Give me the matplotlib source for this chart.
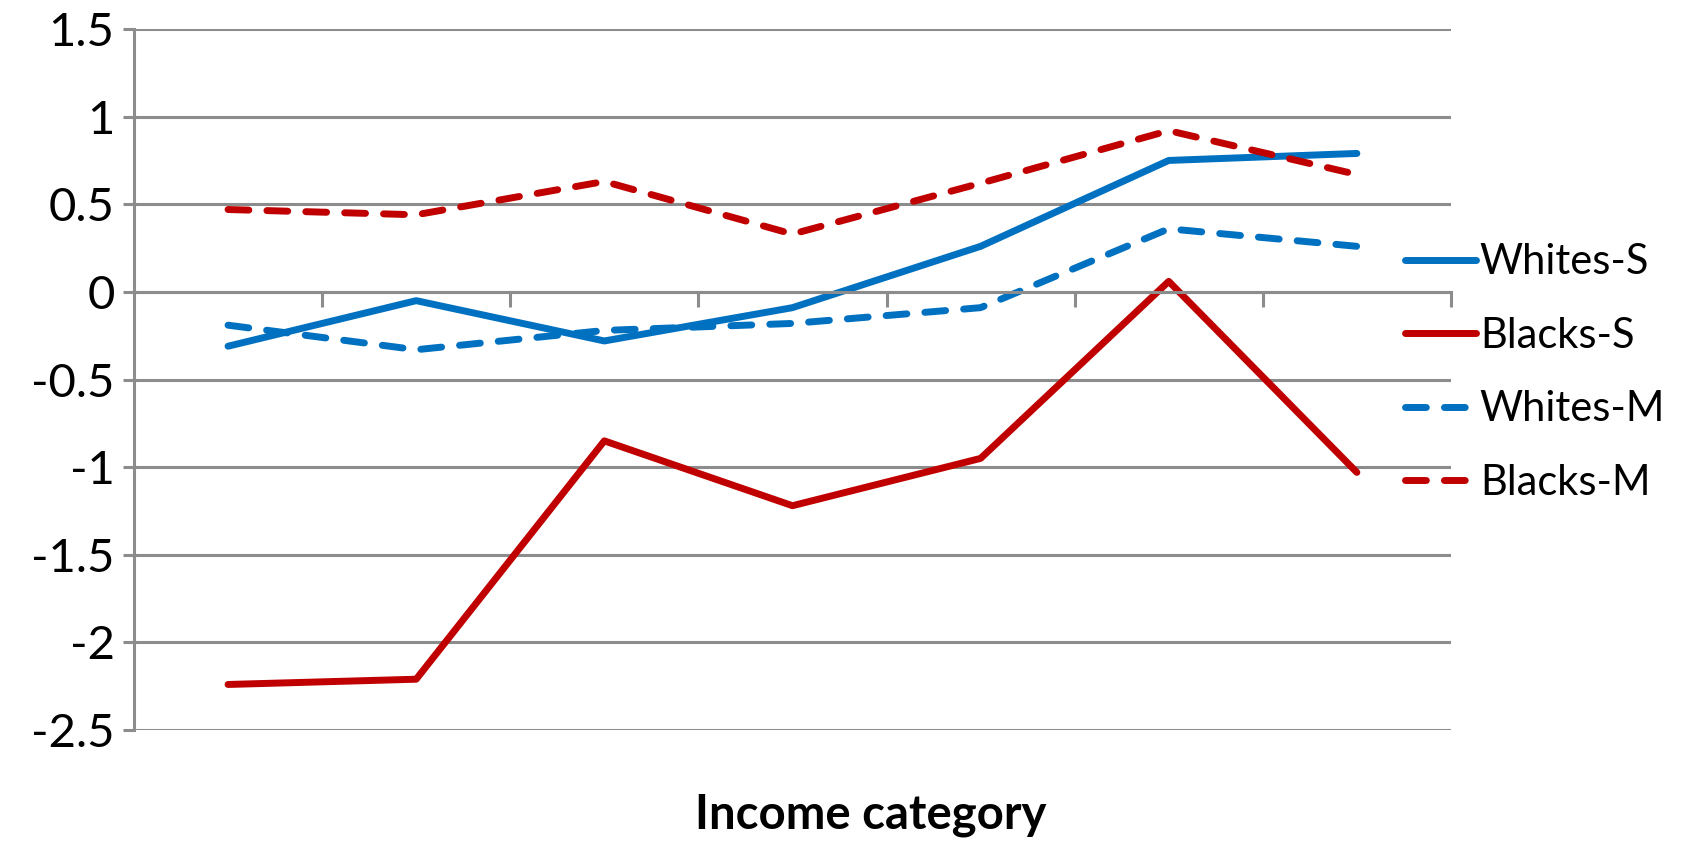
import numpy as np
import matplotlib
matplotlib.use('Agg')
import matplotlib.pyplot as plt

plt.rcParams['font.family'] = ['Lato', 'DejaVu Sans']

# income categories (no labels shown on the chart)
categories = [1, 2, 3, 4, 5, 6, 7]

whites_s = [-0.31, -0.05, -0.28, -0.09, 0.26, 0.75, 0.79]
blacks_s = [-2.24, -2.21, -0.85, -1.22, -0.95, 0.06, -1.03]
whites_m = [-0.19, -0.33, -0.22, -0.18, -0.09, 0.36, 0.26]
blacks_m = [0.47, 0.44, 0.63, 0.33, 0.62, 0.92, 0.67]

blue = '#0070C0'
red = '#C00000'
grid_col = '#8C8C8C'

fig = plt.figure(figsize=(16.98, 8.43), dpi=100)
ax = fig.add_axes([0.0789, 0.134, 0.7756, 0.8316])

lw = 5.0
ax.plot(categories, whites_s, color=blue, lw=lw, label='Whites-S', solid_capstyle='round')
ax.plot(categories, blacks_s, color=red, lw=lw, label='Blacks-S', solid_capstyle='round')
ax.plot(categories, whites_m, color=blue, lw=lw, label='Whites-M', dashes=(3.0, 2.6), dash_capstyle='round')
ax.plot(categories, blacks_m, color=red, lw=lw, label='Blacks-M', dashes=(3.0, 2.6), dash_capstyle='round')

ax.set_xlim(0.5, 7.5)
ax.set_ylim(-2.5, 1.5)
ax.set_yticks(np.arange(-2.5, 1.51, 0.5))
ax.set_yticklabels(['-2.5', '-2', '-1.5', '-1', '-0.5', '0', '0.5', '1', '1.5'])
ax.set_xticks(np.arange(1.5, 7.6, 1.0))
ax.set_xticklabels([])

ax.grid(axis='y', color=grid_col, lw=2.2)
ax.set_axisbelow(True)

for s in ['top', 'right']:
    ax.spines[s].set_visible(False)
ax.spines['left'].set_color(grid_col)
ax.spines['left'].set_linewidth(2.2)
ax.spines['bottom'].set_position(('data', 0))
ax.spines['bottom'].set_color(grid_col)
ax.spines['bottom'].set_linewidth(2.2)

ax.tick_params(axis='y', direction='out', length=8, width=2.2, color=grid_col,
               labelsize=34, pad=6)
ax.tick_params(axis='x', direction='out', length=11, width=2.2, color=grid_col)

fig.text(0.513, 0.033, 'Income category', ha='center', va='center',
         fontsize=34, fontweight='bold')

leg = ax.legend(loc='center left', bbox_to_anchor=(0.965, 0.51), frameon=False,
                fontsize=30, handlelength=1.7, handletextpad=0.1,
                labelspacing=0.85, borderaxespad=0, borderpad=0)

fig.savefig('out.png', dpi=100)
